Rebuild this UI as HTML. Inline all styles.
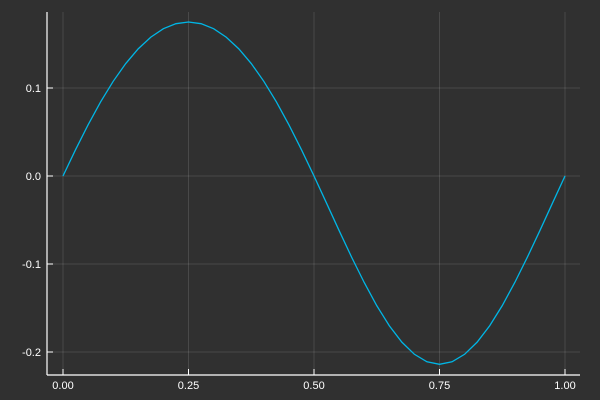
<!DOCTYPE html>
<html><head><meta charset="utf-8"><style>
html,body{margin:0;padding:0;background:#303030;}
svg{display:block;font-family:"Liberation Sans",sans-serif;}
</style></head><body>
<svg id="chart" width="600" height="400">
<rect width="600" height="400" fill="#303030"/>
<g id="grid"></g>
<g id="axes"></g>
<path id="line" fill="none" stroke="#00b6e6" stroke-width="1.3"/>
</svg>
<script>
const xs=[0,0.025,0.05,0.075,0.1,0.125,0.15,0.175,0.2,0.225,0.25,0.275,0.3,0.325,0.35,0.375,0.4,0.425,0.45,0.475,0.5,0.525,0.55,0.575,0.6,0.625,0.65,0.675,0.7,0.725,0.75,0.775,0.8,0.825,0.85,0.875,0.9,0.925,0.95,0.975,1];
const ys=[0,0.0299,0.0582,0.0843,0.1076,0.1278,0.1446,0.1578,0.1674,0.1731,0.175,0.1731,0.1674,0.1578,0.1446,0.1278,0.1076,0.0843,0.0582,0.0299,0,-0.0309,-0.062,-0.0923,-0.121,-0.1473,-0.1702,-0.1888,-0.2026,-0.2111,-0.214,-0.2111,-0.2026,-0.1888,-0.1702,-0.1473,-0.121,-0.0923,-0.062,-0.0309,0];
const xTicks=[0,0.25,0.5,0.75,1];
const xTickLabels=["0.00","0.25","0.50","0.75","1.00"];
const yTicks=[0.1,0,-0.1,-0.2];
const yTickLabels=["0.1","0.0","-0.1","-0.2"];
const NS="http://www.w3.org/2000/svg";
const L=47,R=580,T=12,B=375;
const sx=v=>63+v*502;
const sy=v=>176-v*880;
const grid=document.getElementById('grid'),axes=document.getElementById('axes');
function mk(tag,attrs,parent){const e=document.createElementNS(NS,tag);for(const k in attrs)e.setAttribute(k,attrs[k]);parent.appendChild(e);return e;}
xTicks.forEach((t,i)=>{
 const g=mk('line',{x1:sx(t),x2:sx(t),y1:T,y2:B,stroke:'#ffffff','stroke-opacity':0.12,'stroke-width':1},grid);
 
 
 const tk=mk('line',{x1:sx(t),x2:sx(t),y1:B,y2:B-6,stroke:'#fff','stroke-width':1},axes);
 
 
 const tx=mk('text',{x:sx(t),y:389,fill:'#fff','font-size':11,'text-anchor':'middle'},axes);
 tx.textContent=xTickLabels[i];
 
 
});
yTicks.forEach((t,i)=>{
 const g=mk('line',{x1:L,x2:R,y1:sy(t),y2:sy(t),stroke:'#ffffff','stroke-opacity':0.12,'stroke-width':1},grid);
 
 
 const tk=mk('line',{x1:L,x2:L+6,y1:sy(t),y2:sy(t),stroke:'#fff','stroke-width':1},axes);
 
 
 const tx=mk('text',{x:41,y:sy(t)+4,fill:'#fff','font-size':11,'text-anchor':'end'},axes);
 tx.textContent=yTickLabels[i];
 
 
});
const ya=mk('line',{x1:L,x2:L,y1:T,y2:B,stroke:'#fff','stroke-width':1.2},axes);


const xa=mk('line',{x1:L,x2:R,y1:B,y2:B,stroke:'#fff','stroke-width':1.2},axes);


document.getElementById('line').setAttribute('d',xs.map((x,i)=>(i?'L':'M')+sx(x)+','+sy(ys[i])).join(''));
</script>
</body></html>
